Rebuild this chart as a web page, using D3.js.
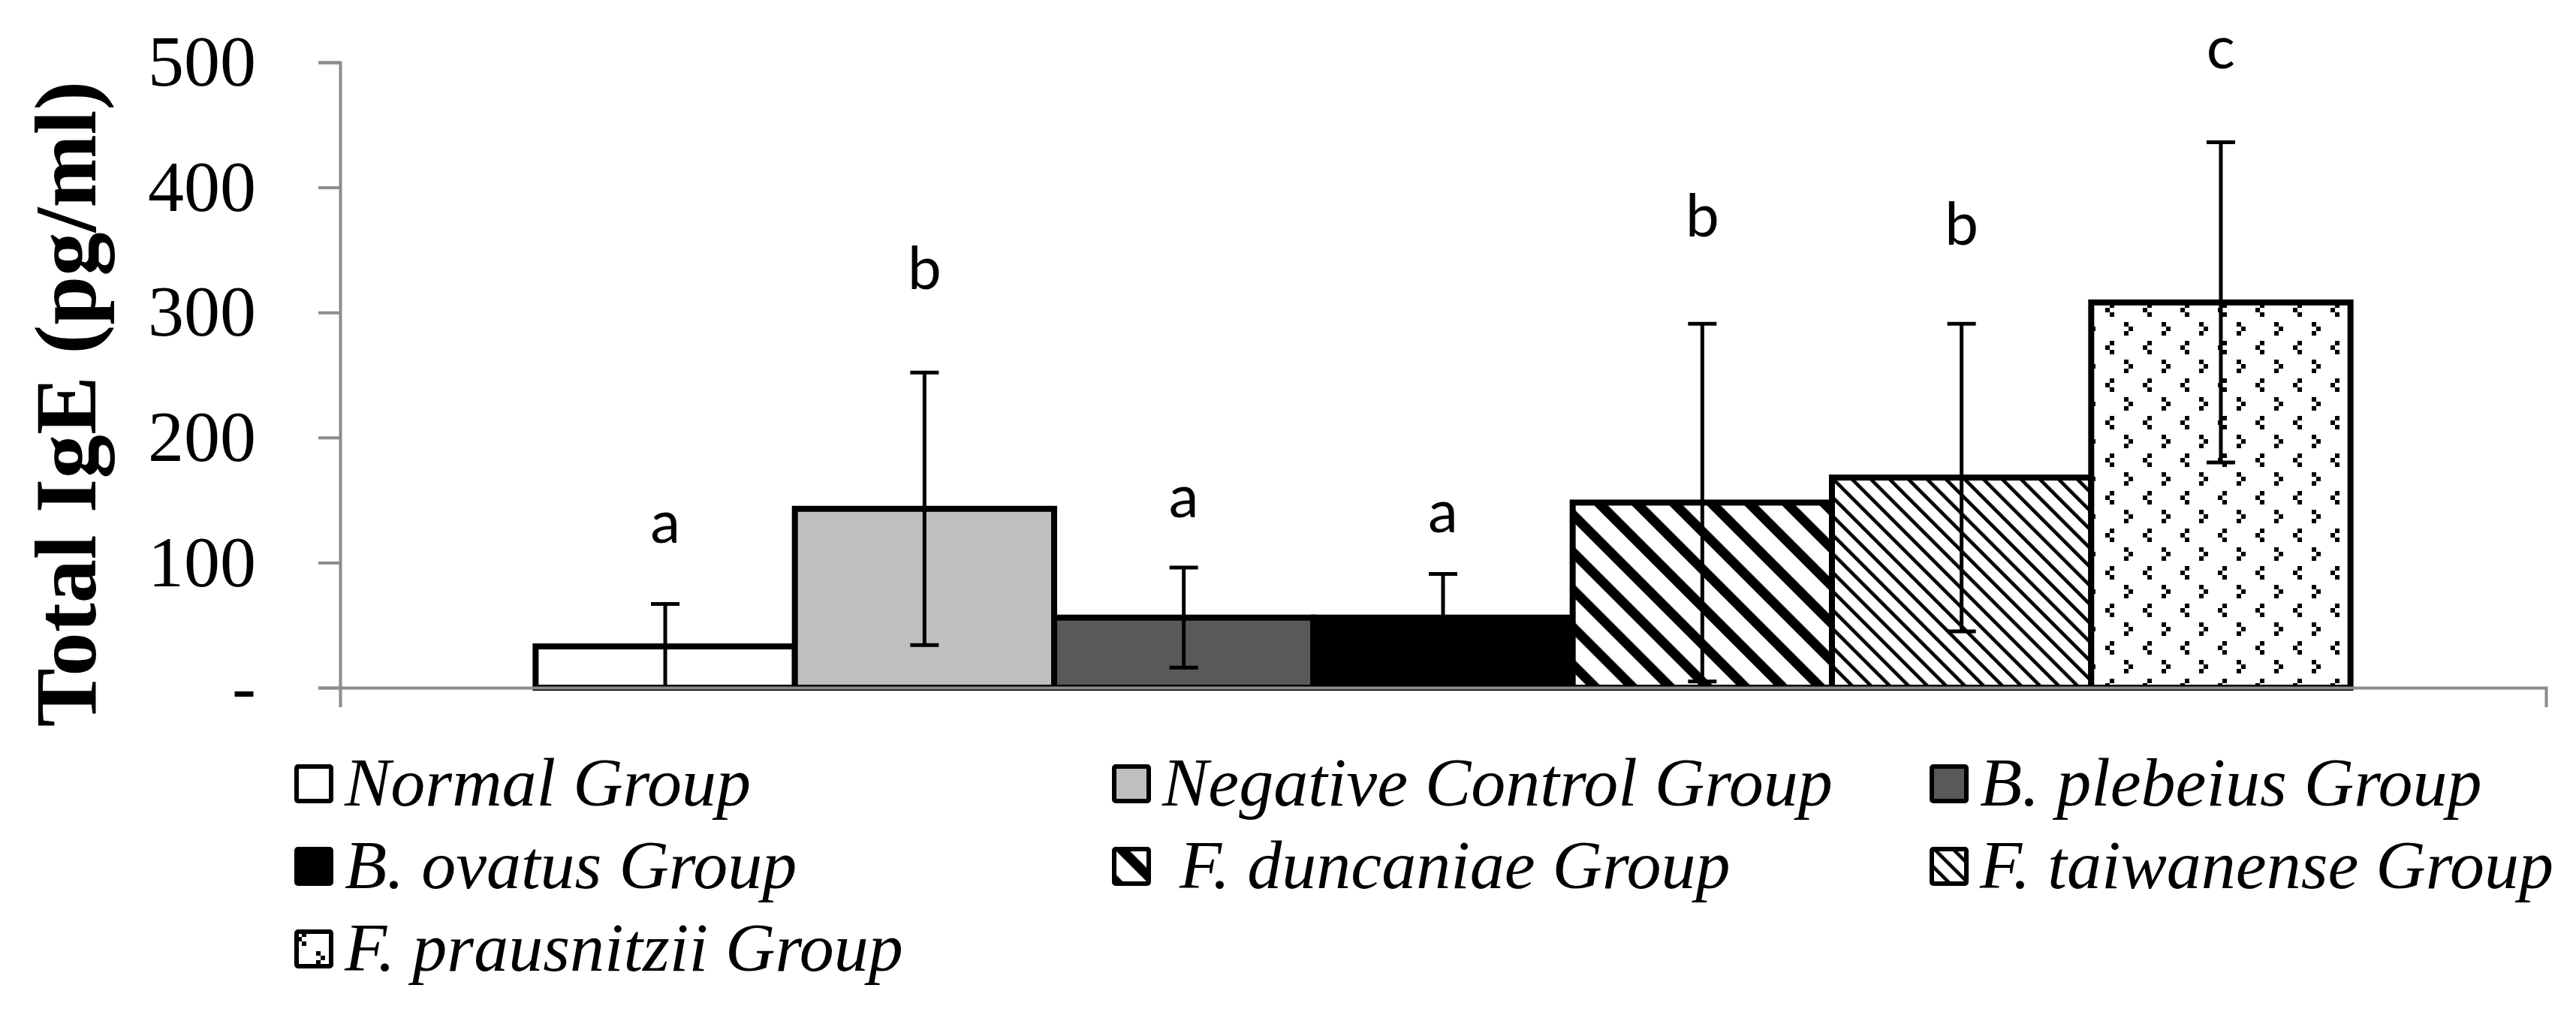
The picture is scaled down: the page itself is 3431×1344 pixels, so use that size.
<!DOCTYPE html>
<html>
<head>
<meta charset="utf-8">
<script src="https://cdn.jsdelivr.net/npm/d3@7"></script>
<style>
  body { margin: 0; background: #fff; }
  svg { display: block; }
</style>
</head>
<body>
<svg id="chart"></svg>
<script>
// data
var groups = ["Normal Group", "Negative Control Group", "B. plebeius Group",
              "B. ovatus Group", " F. duncaniae Group", "F. taiwanense Group",
              "F. prausnitzii Group"];
var means  = [33, 143, 56, 56, 148, 168, 308];
var errors = [34, 109, 40, 35, 143, 123, 128];
var letters = ["a", "b", "a", "a", "b", "b", "c"];
var letterPos = [116, 319, 136, 124, 361, 354, 495];
var yTicks = [0, 100, 200, 300, 400, 500];
var yTitle = "Total IgE (pg/ml)";

var fills = ["#ffffff", "#bfbfbf", "#595959", "#000000",
             "url(#patWide)", "url(#patFine)", "url(#patDots)"];

var width = 3431, height = 1344;
var plotLeft = 453, plotRight = 3391, plotTop = 83, plotBase = 916;

var svg = d3.select("#chart")
    .attr("width", width)
    .attr("height", height);

// fill patterns
var defs = svg.append("defs");

function stripes(id, period, w) {
  var p = defs.append("pattern")
      .attr("id", id)
      .attr("patternUnits", "userSpaceOnUse")
      .attr("width", period)
      .attr("height", period)
      .attr("patternTransform", "rotate(-45)");
  p.append("rect").attr("width", period).attr("height", period).attr("fill", "#fff");
  p.append("rect").attr("width", w).attr("height", period).attr("fill", "#000");
}
stripes("patWide", 35.36, 13);
stripes("patFine", 17.68, 4.6);

var dots = defs.append("pattern")
    .attr("id", "patDots")
    .attr("patternUnits", "userSpaceOnUse")
    .attr("width", 50)
    .attr("height", 50);
dots.append("rect").attr("width", 50).attr("height", 50).attr("fill", "#fff");
var s = 6;
// "<" and ">" marks
[[s, 0], [0, s], [s, 2 * s], [25, 25], [25 + s, 25 + s], [25, 25 + 2 * s]].forEach(function(d) {
  dots.append("rect")
      .attr("x", d[0] + 4).attr("y", d[1] + 4)
      .attr("width", s).attr("height", s)
      .attr("fill", "#000");
});

// scales
var x = d3.scaleBand()
    .domain(groups)
    .range([plotLeft, plotRight])
    .paddingInner(0)
    .paddingOuter(0.754);

var xCat = d3.scaleBand().domain(["IgE"]).range([plotLeft, plotRight]);

var y = d3.scaleLinear()
    .domain([0, 500])
    .range([plotBase, plotTop]);

var rows = groups.map(function(g, i) {
  return {name: g, mean: means[i], err: errors[i], letter: letters[i], lpos: letterPos[i], fill: fills[i]};
});

// bars
svg.append("g").selectAll("rect")
  .data(rows)
  .enter()
  .append("rect")
    .attr("x", function(d) { return x(d.name); })
    .attr("y", function(d) { return y(d.mean); })
    .attr("width", x.bandwidth())
    .attr("height", function(d) { return y(0) - y(d.mean); })
    .attr("fill", function(d) { return d.fill; })
    .attr("stroke", "#000")
    .attr("stroke-width", 8);

// error bars
var eb = svg.append("g")
    .attr("stroke", "#000")
    .attr("stroke-width", 5);

rows.forEach(function(d) {
  var cx = x(d.name) + x.bandwidth() / 2;
  var lo = Math.max(d.mean - d.err, 0);
  var hi = d.mean + d.err;
  eb.append("line").attr("x1", cx).attr("x2", cx).attr("y1", y(lo)).attr("y2", y(hi));
  eb.append("line").attr("x1", cx - 19).attr("x2", cx + 19).attr("y1", y(hi)).attr("y2", y(hi));
  if (d.mean - d.err >= 0) {
    eb.append("line").attr("x1", cx - 19).attr("x2", cx + 19).attr("y1", y(lo)).attr("y2", y(lo));
  }
});

// significance letters
svg.append("g").selectAll("text")
  .data(rows)
  .enter()
  .append("text")
    .attr("x", function(d) { return x(d.name) + x.bandwidth() / 2; })
    .attr("y", function(d) { return y(d.lpos); })
    .attr("text-anchor", "middle")
    .style("font-family", "Lato, 'Open Sans', sans-serif")
    .style("font-size", "80px")
    .text(function(d) { return d.letter; });

// x axis
var xAxis = svg.append("g")
    .attr("transform", "translate(0," + plotBase + ")")
    .call(d3.axisBottom(xCat).tickSizeInner(0).tickSizeOuter(26).tickFormat(""));
xAxis.select(".domain").attr("stroke", "#8c8c8c").attr("stroke-width", 4);
xAxis.selectAll(".tick line").remove();

// y axis
var yAxis = svg.append("g")
    .attr("transform", "translate(" + plotLeft + ",0)")
    .call(d3.axisLeft(y)
      .tickValues(yTicks)
      .tickSize(29)
      .tickPadding(83)
      .tickFormat(function(d) { return d === 0 ? "-" : d; }));
yAxis.select(".domain").attr("stroke", "#8c8c8c").attr("stroke-width", 4);
yAxis.selectAll(".tick line").attr("stroke", "#8c8c8c").attr("stroke-width", 4);
yAxis.selectAll(".tick text")
    .attr("fill", "#000")
    .style("font-family", "'Liberation Serif', 'Times New Roman', serif")
    .style("font-size", "96px");

// y axis title
svg.append("text")
    .attr("transform", "translate(127,538) rotate(-90)")
    .attr("text-anchor", "middle")
    .style("font-family", "'Liberation Serif', 'Times New Roman', serif")
    .style("font-weight", "bold")
    .style("font-size", "117px")
    .text(yTitle);

// legend
var legend = svg.append("g").selectAll("g")
  .data(rows)
  .enter()
  .append("g")
    .attr("transform", function(d, i) {
      return "translate(" + (392 + (i % 3) * 1089) + "," + (1018 + Math.floor(i / 3) * 110) + ")";
    });

legend.append("rect")
    .attr("x", 3).attr("y", 3)
    .attr("width", 46).attr("height", 46)
    .attr("rx", 2)
    .attr("fill", function(d) { return d.fill; })
    .attr("stroke", "#000")
    .attr("stroke-width", 6);

legend.append("text")
    .attr("x", 67)
    .attr("y", 55)
    .style("white-space", "pre")
    .style("font-family", "'Liberation Serif', 'Times New Roman', serif")
    .style("font-style", "italic")
    .style("font-size", "92px")
    .text(function(d) { return d.name; });
</script>
</body>
</html>
